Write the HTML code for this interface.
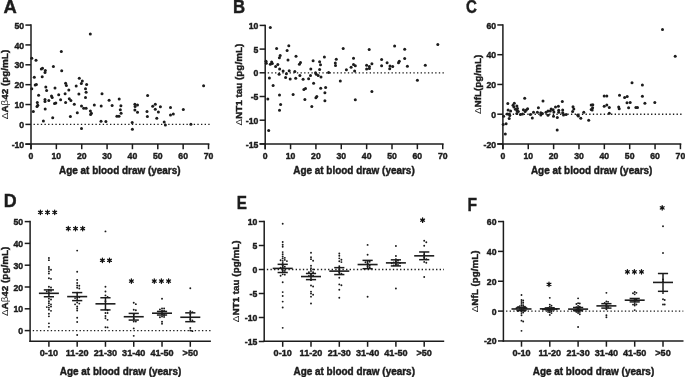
<!DOCTYPE html>
<html><head><meta charset="utf-8"><style>
html,body{margin:0;padding:0;background:#fff;}
svg{display:block;filter:grayscale(1);}
text{font-family:"Liberation Sans", sans-serif;stroke:#1c1c1c;stroke-width:0.42px;}
</style></head><body>
<svg width="685" height="377" viewBox="0 0 685 377">
<rect width="685" height="377" fill="#fff"/>
<g stroke="#1c1c1c" fill="#1c1c1c">
<line x1="31.00" y1="24.32" x2="31.00" y2="149.20" stroke-width="1.5" stroke-linecap="butt"/>
<line x1="25.40" y1="143.90" x2="209.42" y2="143.90" stroke-width="1.5" stroke-linecap="butt"/>
<line x1="25.40" y1="25.07" x2="31.00" y2="25.07" stroke-width="1.5" stroke-linecap="butt"/>
<text x="24.20" y="28.67" font-size="8.7" text-anchor="end" font-weight="bold" >50</text>
<line x1="25.40" y1="44.93" x2="31.00" y2="44.93" stroke-width="1.5" stroke-linecap="butt"/>
<text x="24.20" y="48.53" font-size="8.7" text-anchor="end" font-weight="bold" >40</text>
<line x1="25.40" y1="64.80" x2="31.00" y2="64.80" stroke-width="1.5" stroke-linecap="butt"/>
<text x="24.20" y="68.40" font-size="8.7" text-anchor="end" font-weight="bold" >30</text>
<line x1="25.40" y1="84.67" x2="31.00" y2="84.67" stroke-width="1.5" stroke-linecap="butt"/>
<text x="24.20" y="88.27" font-size="8.7" text-anchor="end" font-weight="bold" >20</text>
<line x1="25.40" y1="104.53" x2="31.00" y2="104.53" stroke-width="1.5" stroke-linecap="butt"/>
<text x="24.20" y="108.13" font-size="8.7" text-anchor="end" font-weight="bold" >10</text>
<line x1="25.40" y1="124.40" x2="31.00" y2="124.40" stroke-width="1.5" stroke-linecap="butt"/>
<text x="24.20" y="128.00" font-size="8.7" text-anchor="end" font-weight="bold" >0</text>
<line x1="25.40" y1="144.27" x2="31.00" y2="144.27" stroke-width="1.5" stroke-linecap="butt"/>
<text x="24.20" y="147.87" font-size="8.7" text-anchor="end" font-weight="bold" >-10</text>
<line x1="31.00" y1="143.90" x2="31.00" y2="149.20" stroke-width="1.5" stroke-linecap="butt"/>
<text x="31.00" y="159.20" font-size="8.7" text-anchor="middle" font-weight="bold" >0</text>
<line x1="56.36" y1="143.90" x2="56.36" y2="149.20" stroke-width="1.5" stroke-linecap="butt"/>
<text x="56.36" y="159.20" font-size="8.7" text-anchor="middle" font-weight="bold" >10</text>
<line x1="81.72" y1="143.90" x2="81.72" y2="149.20" stroke-width="1.5" stroke-linecap="butt"/>
<text x="81.72" y="159.20" font-size="8.7" text-anchor="middle" font-weight="bold" >20</text>
<line x1="107.08" y1="143.90" x2="107.08" y2="149.20" stroke-width="1.5" stroke-linecap="butt"/>
<text x="107.08" y="159.20" font-size="8.7" text-anchor="middle" font-weight="bold" >30</text>
<line x1="132.44" y1="143.90" x2="132.44" y2="149.20" stroke-width="1.5" stroke-linecap="butt"/>
<text x="132.44" y="159.20" font-size="8.7" text-anchor="middle" font-weight="bold" >40</text>
<line x1="157.80" y1="143.90" x2="157.80" y2="149.20" stroke-width="1.5" stroke-linecap="butt"/>
<text x="157.80" y="159.20" font-size="8.7" text-anchor="middle" font-weight="bold" >50</text>
<line x1="183.16" y1="143.90" x2="183.16" y2="149.20" stroke-width="1.5" stroke-linecap="butt"/>
<text x="183.16" y="159.20" font-size="8.7" text-anchor="middle" font-weight="bold" >60</text>
<line x1="208.52" y1="143.90" x2="208.52" y2="149.20" stroke-width="1.5" stroke-linecap="butt"/>
<text x="208.52" y="159.20" font-size="8.7" text-anchor="middle" font-weight="bold" >70</text>
<line x1="33.55" y1="124.40" x2="210.32" y2="124.40" stroke-width="1.35" stroke-dasharray="1.35 2.29" class="dt"/>
<text transform="translate(119.76,174.20) scale(1,1.05)" font-size="9.95" text-anchor="middle" font-weight="bold">Age at blood draw (years)</text>
<text transform="translate(7.50,84.48) rotate(-90)" font-size="9.9" text-anchor="middle" font-weight="bold"><tspan font-weight="normal" stroke-width="0">Δ</tspan>A<tspan font-weight="normal" stroke-width="0">β</tspan>42 (pg/mL)</text>
<text transform="translate(3.50,13.30) scale(1.0,1)" font-size="18.4" font-weight="bold" stroke-width="0.6">A</text>
<line x1="265.20" y1="24.65" x2="265.20" y2="149.20" stroke-width="1.5" stroke-linecap="butt"/>
<line x1="259.60" y1="143.90" x2="443.62" y2="143.90" stroke-width="1.5" stroke-linecap="butt"/>
<line x1="259.60" y1="25.40" x2="265.20" y2="25.40" stroke-width="1.5" stroke-linecap="butt"/>
<text x="258.40" y="29.00" font-size="8.7" text-anchor="end" font-weight="bold" >10</text>
<line x1="259.60" y1="49.10" x2="265.20" y2="49.10" stroke-width="1.5" stroke-linecap="butt"/>
<text x="258.40" y="52.70" font-size="8.7" text-anchor="end" font-weight="bold" >5</text>
<line x1="259.60" y1="72.80" x2="265.20" y2="72.80" stroke-width="1.5" stroke-linecap="butt"/>
<text x="258.40" y="76.40" font-size="8.7" text-anchor="end" font-weight="bold" >0</text>
<line x1="259.60" y1="96.50" x2="265.20" y2="96.50" stroke-width="1.5" stroke-linecap="butt"/>
<text x="258.40" y="100.10" font-size="8.7" text-anchor="end" font-weight="bold" >-5</text>
<line x1="259.60" y1="120.20" x2="265.20" y2="120.20" stroke-width="1.5" stroke-linecap="butt"/>
<text x="258.40" y="123.80" font-size="8.7" text-anchor="end" font-weight="bold" >-10</text>
<line x1="259.60" y1="143.90" x2="265.20" y2="143.90" stroke-width="1.5" stroke-linecap="butt"/>
<text x="258.40" y="147.50" font-size="8.7" text-anchor="end" font-weight="bold" >-15</text>
<line x1="265.20" y1="143.90" x2="265.20" y2="149.20" stroke-width="1.5" stroke-linecap="butt"/>
<text x="265.20" y="159.20" font-size="8.7" text-anchor="middle" font-weight="bold" >0</text>
<line x1="290.56" y1="143.90" x2="290.56" y2="149.20" stroke-width="1.5" stroke-linecap="butt"/>
<text x="290.56" y="159.20" font-size="8.7" text-anchor="middle" font-weight="bold" >10</text>
<line x1="315.92" y1="143.90" x2="315.92" y2="149.20" stroke-width="1.5" stroke-linecap="butt"/>
<text x="315.92" y="159.20" font-size="8.7" text-anchor="middle" font-weight="bold" >20</text>
<line x1="341.28" y1="143.90" x2="341.28" y2="149.20" stroke-width="1.5" stroke-linecap="butt"/>
<text x="341.28" y="159.20" font-size="8.7" text-anchor="middle" font-weight="bold" >30</text>
<line x1="366.64" y1="143.90" x2="366.64" y2="149.20" stroke-width="1.5" stroke-linecap="butt"/>
<text x="366.64" y="159.20" font-size="8.7" text-anchor="middle" font-weight="bold" >40</text>
<line x1="392.00" y1="143.90" x2="392.00" y2="149.20" stroke-width="1.5" stroke-linecap="butt"/>
<text x="392.00" y="159.20" font-size="8.7" text-anchor="middle" font-weight="bold" >50</text>
<line x1="417.36" y1="143.90" x2="417.36" y2="149.20" stroke-width="1.5" stroke-linecap="butt"/>
<text x="417.36" y="159.20" font-size="8.7" text-anchor="middle" font-weight="bold" >60</text>
<line x1="442.72" y1="143.90" x2="442.72" y2="149.20" stroke-width="1.5" stroke-linecap="butt"/>
<text x="442.72" y="159.20" font-size="8.7" text-anchor="middle" font-weight="bold" >70</text>
<line x1="267.75" y1="72.80" x2="444.52" y2="72.80" stroke-width="1.35" stroke-dasharray="1.35 2.29" class="dt"/>
<text transform="translate(353.96,174.20) scale(1,1.05)" font-size="9.95" text-anchor="middle" font-weight="bold">Age at blood draw (years)</text>
<text transform="translate(241.60,84.65) rotate(-90)" font-size="9.9" text-anchor="middle" font-weight="bold"><tspan font-weight="normal" stroke-width="0">Δ</tspan>NT1 tau (pg/mL)</text>
<text transform="translate(233.00,13.30) scale(0.91,1)" font-size="18.4" font-weight="bold" stroke-width="0.6">B</text>
<line x1="502.90" y1="24.20" x2="502.90" y2="149.20" stroke-width="1.5" stroke-linecap="butt"/>
<line x1="497.30" y1="143.90" x2="681.32" y2="143.90" stroke-width="1.5" stroke-linecap="butt"/>
<line x1="497.30" y1="24.95" x2="502.90" y2="24.95" stroke-width="1.5" stroke-linecap="butt"/>
<text x="496.10" y="28.55" font-size="8.7" text-anchor="end" font-weight="bold" >60</text>
<line x1="497.30" y1="54.70" x2="502.90" y2="54.70" stroke-width="1.5" stroke-linecap="butt"/>
<text x="496.10" y="58.30" font-size="8.7" text-anchor="end" font-weight="bold" >40</text>
<line x1="497.30" y1="84.45" x2="502.90" y2="84.45" stroke-width="1.5" stroke-linecap="butt"/>
<text x="496.10" y="88.05" font-size="8.7" text-anchor="end" font-weight="bold" >20</text>
<line x1="497.30" y1="114.20" x2="502.90" y2="114.20" stroke-width="1.5" stroke-linecap="butt"/>
<text x="496.10" y="117.80" font-size="8.7" text-anchor="end" font-weight="bold" >0</text>
<line x1="497.30" y1="143.95" x2="502.90" y2="143.95" stroke-width="1.5" stroke-linecap="butt"/>
<text x="496.10" y="147.55" font-size="8.7" text-anchor="end" font-weight="bold" >-20</text>
<line x1="502.90" y1="143.90" x2="502.90" y2="149.20" stroke-width="1.5" stroke-linecap="butt"/>
<text x="502.90" y="159.20" font-size="8.7" text-anchor="middle" font-weight="bold" >0</text>
<line x1="528.26" y1="143.90" x2="528.26" y2="149.20" stroke-width="1.5" stroke-linecap="butt"/>
<text x="528.26" y="159.20" font-size="8.7" text-anchor="middle" font-weight="bold" >10</text>
<line x1="553.62" y1="143.90" x2="553.62" y2="149.20" stroke-width="1.5" stroke-linecap="butt"/>
<text x="553.62" y="159.20" font-size="8.7" text-anchor="middle" font-weight="bold" >20</text>
<line x1="578.98" y1="143.90" x2="578.98" y2="149.20" stroke-width="1.5" stroke-linecap="butt"/>
<text x="578.98" y="159.20" font-size="8.7" text-anchor="middle" font-weight="bold" >30</text>
<line x1="604.34" y1="143.90" x2="604.34" y2="149.20" stroke-width="1.5" stroke-linecap="butt"/>
<text x="604.34" y="159.20" font-size="8.7" text-anchor="middle" font-weight="bold" >40</text>
<line x1="629.70" y1="143.90" x2="629.70" y2="149.20" stroke-width="1.5" stroke-linecap="butt"/>
<text x="629.70" y="159.20" font-size="8.7" text-anchor="middle" font-weight="bold" >50</text>
<line x1="655.06" y1="143.90" x2="655.06" y2="149.20" stroke-width="1.5" stroke-linecap="butt"/>
<text x="655.06" y="159.20" font-size="8.7" text-anchor="middle" font-weight="bold" >60</text>
<line x1="680.42" y1="143.90" x2="680.42" y2="149.20" stroke-width="1.5" stroke-linecap="butt"/>
<text x="680.42" y="159.20" font-size="8.7" text-anchor="middle" font-weight="bold" >70</text>
<line x1="505.45" y1="114.20" x2="682.22" y2="114.20" stroke-width="1.35" stroke-dasharray="1.35 2.29" class="dt"/>
<text transform="translate(591.66,174.20) scale(1,1.05)" font-size="9.95" text-anchor="middle" font-weight="bold">Age at blood draw (years)</text>
<text transform="translate(480.60,84.43) rotate(-90)" font-size="9.9" text-anchor="middle" font-weight="bold"><tspan font-weight="normal" stroke-width="0">Δ</tspan>NfL(pg/mL)</text>
<text transform="translate(465.90,13.30) scale(0.82,1)" font-size="18.4" font-weight="bold" stroke-width="0.6">C</text>
</g>
<g fill="#1c1c1c" stroke="none">
<circle cx="90.30" cy="34.00" r="1.5"/>
<circle cx="61.30" cy="51.50" r="1.5"/>
<circle cx="31.80" cy="58.20" r="1.5"/>
<circle cx="36.00" cy="60.20" r="1.5"/>
<circle cx="53.40" cy="66.40" r="1.5"/>
<circle cx="41.30" cy="69.00" r="1.5"/>
<circle cx="42.50" cy="68.20" r="1.5"/>
<circle cx="45.30" cy="70.40" r="1.5"/>
<circle cx="45.00" cy="72.40" r="1.5"/>
<circle cx="61.70" cy="70.80" r="1.5"/>
<circle cx="34.30" cy="77.30" r="1.5"/>
<circle cx="42.20" cy="76.70" r="1.5"/>
<circle cx="79.30" cy="78.20" r="1.5"/>
<circle cx="82.30" cy="81.00" r="1.5"/>
<circle cx="81.30" cy="83.50" r="1.5"/>
<circle cx="86.60" cy="84.40" r="1.5"/>
<circle cx="35.20" cy="85.10" r="1.5"/>
<circle cx="36.40" cy="84.40" r="1.5"/>
<circle cx="65.60" cy="83.30" r="1.5"/>
<circle cx="66.40" cy="85.40" r="1.5"/>
<circle cx="76.20" cy="86.00" r="1.5"/>
<circle cx="31.80" cy="88.80" r="1.5"/>
<circle cx="45.80" cy="87.10" r="1.5"/>
<circle cx="46.60" cy="90.50" r="1.5"/>
<circle cx="55.00" cy="88.10" r="1.5"/>
<circle cx="68.80" cy="89.90" r="1.5"/>
<circle cx="85.50" cy="88.80" r="1.5"/>
<circle cx="86.10" cy="92.30" r="1.5"/>
<circle cx="38.60" cy="95.30" r="1.5"/>
<circle cx="51.50" cy="96.00" r="1.5"/>
<circle cx="52.20" cy="97.60" r="1.5"/>
<circle cx="58.70" cy="94.80" r="1.5"/>
<circle cx="65.10" cy="93.70" r="1.5"/>
<circle cx="78.90" cy="94.10" r="1.5"/>
<circle cx="85.50" cy="97.60" r="1.5"/>
<circle cx="45.00" cy="99.40" r="1.5"/>
<circle cx="60.60" cy="99.80" r="1.5"/>
<circle cx="69.30" cy="98.80" r="1.5"/>
<circle cx="45.00" cy="101.40" r="1.5"/>
<circle cx="48.80" cy="100.50" r="1.5"/>
<circle cx="65.60" cy="102.40" r="1.5"/>
<circle cx="70.90" cy="100.50" r="1.5"/>
<circle cx="54.50" cy="103.50" r="1.5"/>
<circle cx="55.80" cy="103.00" r="1.5"/>
<circle cx="74.30" cy="104.30" r="1.5"/>
<circle cx="37.30" cy="102.40" r="1.5"/>
<circle cx="37.80" cy="105.30" r="1.5"/>
<circle cx="37.00" cy="106.40" r="1.5"/>
<circle cx="33.30" cy="111.40" r="1.5"/>
<circle cx="45.20" cy="109.10" r="1.5"/>
<circle cx="81.50" cy="106.10" r="1.5"/>
<circle cx="83.70" cy="108.30" r="1.5"/>
<circle cx="86.10" cy="108.30" r="1.5"/>
<circle cx="77.30" cy="112.70" r="1.5"/>
<circle cx="52.70" cy="117.80" r="1.5"/>
<circle cx="70.40" cy="116.50" r="1.5"/>
<circle cx="43.40" cy="121.00" r="1.5"/>
<circle cx="81.50" cy="128.40" r="1.5"/>
<circle cx="102.00" cy="93.70" r="1.5"/>
<circle cx="109.10" cy="100.30" r="1.5"/>
<circle cx="119.20" cy="99.00" r="1.5"/>
<circle cx="94.30" cy="105.10" r="1.5"/>
<circle cx="101.20" cy="105.90" r="1.5"/>
<circle cx="112.10" cy="105.40" r="1.5"/>
<circle cx="120.90" cy="105.80" r="1.5"/>
<circle cx="90.40" cy="111.10" r="1.5"/>
<circle cx="91.40" cy="113.20" r="1.5"/>
<circle cx="90.60" cy="114.60" r="1.5"/>
<circle cx="120.30" cy="109.80" r="1.5"/>
<circle cx="121.10" cy="113.30" r="1.5"/>
<circle cx="116.90" cy="116.20" r="1.5"/>
<circle cx="119.00" cy="116.20" r="1.5"/>
<circle cx="134.90" cy="104.30" r="1.5"/>
<circle cx="137.50" cy="105.10" r="1.5"/>
<circle cx="135.10" cy="106.40" r="1.5"/>
<circle cx="134.90" cy="110.10" r="1.5"/>
<circle cx="137.50" cy="112.20" r="1.5"/>
<circle cx="101.00" cy="121.30" r="1.5"/>
<circle cx="105.90" cy="121.50" r="1.5"/>
<circle cx="132.20" cy="122.40" r="1.5"/>
<circle cx="132.40" cy="129.20" r="1.5"/>
<circle cx="203.60" cy="85.80" r="1.5"/>
<circle cx="147.60" cy="95.40" r="1.5"/>
<circle cx="155.30" cy="104.30" r="1.5"/>
<circle cx="152.70" cy="106.20" r="1.5"/>
<circle cx="160.40" cy="106.80" r="1.5"/>
<circle cx="170.50" cy="107.60" r="1.5"/>
<circle cx="155.30" cy="109.20" r="1.5"/>
<circle cx="147.00" cy="111.50" r="1.5"/>
<circle cx="158.40" cy="111.90" r="1.5"/>
<circle cx="183.30" cy="109.60" r="1.5"/>
<circle cx="147.40" cy="116.40" r="1.5"/>
<circle cx="156.80" cy="118.20" r="1.5"/>
<circle cx="170.50" cy="115.10" r="1.5"/>
<circle cx="173.30" cy="114.10" r="1.5"/>
<circle cx="164.20" cy="122.00" r="1.5"/>
<circle cx="165.40" cy="124.90" r="1.5"/>
<circle cx="190.90" cy="124.30" r="1.5"/>
<circle cx="270.30" cy="27.60" r="1.5"/>
<circle cx="276.60" cy="48.40" r="1.5"/>
<circle cx="288.80" cy="45.70" r="1.5"/>
<circle cx="287.10" cy="50.40" r="1.5"/>
<circle cx="280.20" cy="55.60" r="1.5"/>
<circle cx="279.40" cy="57.70" r="1.5"/>
<circle cx="296.00" cy="56.20" r="1.5"/>
<circle cx="288.00" cy="60.00" r="1.5"/>
<circle cx="266.00" cy="61.30" r="1.5"/>
<circle cx="266.30" cy="63.30" r="1.5"/>
<circle cx="271.60" cy="62.00" r="1.5"/>
<circle cx="270.30" cy="64.30" r="1.5"/>
<circle cx="272.30" cy="63.60" r="1.5"/>
<circle cx="275.60" cy="66.40" r="1.5"/>
<circle cx="277.80" cy="64.50" r="1.5"/>
<circle cx="279.60" cy="68.90" r="1.5"/>
<circle cx="283.10" cy="70.90" r="1.5"/>
<circle cx="289.20" cy="70.80" r="1.5"/>
<circle cx="279.10" cy="74.20" r="1.5"/>
<circle cx="286.40" cy="73.80" r="1.5"/>
<circle cx="269.40" cy="77.90" r="1.5"/>
<circle cx="285.60" cy="77.60" r="1.5"/>
<circle cx="290.20" cy="79.00" r="1.5"/>
<circle cx="300.50" cy="62.60" r="1.5"/>
<circle cx="299.40" cy="64.20" r="1.5"/>
<circle cx="313.10" cy="60.70" r="1.5"/>
<circle cx="324.40" cy="57.00" r="1.5"/>
<circle cx="319.60" cy="61.80" r="1.5"/>
<circle cx="320.50" cy="64.70" r="1.5"/>
<circle cx="310.80" cy="69.10" r="1.5"/>
<circle cx="319.60" cy="69.50" r="1.5"/>
<circle cx="294.80" cy="71.50" r="1.5"/>
<circle cx="315.50" cy="72.70" r="1.5"/>
<circle cx="316.30" cy="74.30" r="1.5"/>
<circle cx="318.20" cy="75.50" r="1.5"/>
<circle cx="321.00" cy="76.90" r="1.5"/>
<circle cx="299.90" cy="75.50" r="1.5"/>
<circle cx="310.50" cy="75.50" r="1.5"/>
<circle cx="295.70" cy="78.30" r="1.5"/>
<circle cx="303.10" cy="79.20" r="1.5"/>
<circle cx="308.60" cy="78.80" r="1.5"/>
<circle cx="273.10" cy="85.40" r="1.5"/>
<circle cx="313.60" cy="83.30" r="1.5"/>
<circle cx="303.90" cy="89.60" r="1.5"/>
<circle cx="305.50" cy="88.60" r="1.5"/>
<circle cx="320.70" cy="88.30" r="1.5"/>
<circle cx="279.50" cy="95.10" r="1.5"/>
<circle cx="293.10" cy="94.60" r="1.5"/>
<circle cx="267.80" cy="98.90" r="1.5"/>
<circle cx="304.90" cy="99.60" r="1.5"/>
<circle cx="315.90" cy="97.80" r="1.5"/>
<circle cx="316.80" cy="96.50" r="1.5"/>
<circle cx="280.60" cy="104.50" r="1.5"/>
<circle cx="279.50" cy="110.30" r="1.5"/>
<circle cx="311.80" cy="106.40" r="1.5"/>
<circle cx="268.70" cy="130.40" r="1.5"/>
<circle cx="343.20" cy="48.50" r="1.5"/>
<circle cx="369.20" cy="49.60" r="1.5"/>
<circle cx="336.30" cy="59.20" r="1.5"/>
<circle cx="353.50" cy="58.30" r="1.5"/>
<circle cx="335.30" cy="63.10" r="1.5"/>
<circle cx="335.50" cy="65.50" r="1.5"/>
<circle cx="353.50" cy="64.50" r="1.5"/>
<circle cx="355.30" cy="65.70" r="1.5"/>
<circle cx="351.10" cy="67.30" r="1.5"/>
<circle cx="366.60" cy="65.20" r="1.5"/>
<circle cx="371.90" cy="63.80" r="1.5"/>
<circle cx="369.40" cy="66.60" r="1.5"/>
<circle cx="369.40" cy="68.40" r="1.5"/>
<circle cx="366.60" cy="69.10" r="1.5"/>
<circle cx="346.40" cy="69.70" r="1.5"/>
<circle cx="354.60" cy="71.00" r="1.5"/>
<circle cx="328.60" cy="72.50" r="1.5"/>
<circle cx="340.30" cy="80.90" r="1.5"/>
<circle cx="325.60" cy="87.50" r="1.5"/>
<circle cx="324.90" cy="92.80" r="1.5"/>
<circle cx="371.90" cy="91.50" r="1.5"/>
<circle cx="324.90" cy="100.70" r="1.5"/>
<circle cx="355.30" cy="99.70" r="1.5"/>
<circle cx="394.60" cy="45.90" r="1.5"/>
<circle cx="437.80" cy="44.40" r="1.5"/>
<circle cx="404.70" cy="49.30" r="1.5"/>
<circle cx="381.60" cy="59.50" r="1.5"/>
<circle cx="404.70" cy="58.50" r="1.5"/>
<circle cx="387.10" cy="62.70" r="1.5"/>
<circle cx="399.30" cy="61.20" r="1.5"/>
<circle cx="398.50" cy="62.70" r="1.5"/>
<circle cx="381.60" cy="65.80" r="1.5"/>
<circle cx="390.00" cy="65.90" r="1.5"/>
<circle cx="392.70" cy="66.40" r="1.5"/>
<circle cx="389.70" cy="68.70" r="1.5"/>
<circle cx="407.40" cy="66.20" r="1.5"/>
<circle cx="425.30" cy="65.30" r="1.5"/>
<circle cx="417.40" cy="80.20" r="1.5"/>
<circle cx="662.50" cy="29.60" r="1.5"/>
<circle cx="675.20" cy="56.30" r="1.5"/>
<circle cx="632.00" cy="82.70" r="1.5"/>
<circle cx="642.40" cy="84.90" r="1.5"/>
<circle cx="619.50" cy="95.20" r="1.5"/>
<circle cx="624.60" cy="97.50" r="1.5"/>
<circle cx="627.20" cy="96.40" r="1.5"/>
<circle cx="642.40" cy="96.20" r="1.5"/>
<circle cx="627.00" cy="102.80" r="1.5"/>
<circle cx="630.20" cy="102.60" r="1.5"/>
<circle cx="644.90" cy="103.20" r="1.5"/>
<circle cx="654.80" cy="102.40" r="1.5"/>
<circle cx="618.70" cy="107.10" r="1.5"/>
<circle cx="619.20" cy="108.70" r="1.5"/>
<circle cx="628.60" cy="107.70" r="1.5"/>
<circle cx="635.90" cy="107.60" r="1.5"/>
<circle cx="637.50" cy="107.60" r="1.5"/>
<circle cx="604.20" cy="96.00" r="1.5"/>
<circle cx="606.80" cy="96.00" r="1.5"/>
<circle cx="591.20" cy="105.00" r="1.5"/>
<circle cx="592.80" cy="104.70" r="1.5"/>
<circle cx="592.60" cy="107.80" r="1.5"/>
<circle cx="591.20" cy="109.50" r="1.5"/>
<circle cx="592.20" cy="110.00" r="1.5"/>
<circle cx="604.20" cy="106.20" r="1.5"/>
<circle cx="606.80" cy="105.00" r="1.5"/>
<circle cx="609.30" cy="107.60" r="1.5"/>
<circle cx="609.30" cy="113.20" r="1.5"/>
<circle cx="583.80" cy="112.30" r="1.5"/>
<circle cx="577.60" cy="115.00" r="1.5"/>
<circle cx="578.40" cy="116.10" r="1.5"/>
<circle cx="580.80" cy="118.30" r="1.5"/>
<circle cx="588.70" cy="120.30" r="1.5"/>
<circle cx="543.00" cy="101.00" r="1.5"/>
<circle cx="562.30" cy="101.50" r="1.5"/>
<circle cx="558.40" cy="106.30" r="1.5"/>
<circle cx="555.50" cy="107.10" r="1.5"/>
<circle cx="551.10" cy="108.90" r="1.5"/>
<circle cx="553.10" cy="109.70" r="1.5"/>
<circle cx="548.00" cy="111.10" r="1.5"/>
<circle cx="550.30" cy="111.10" r="1.5"/>
<circle cx="553.90" cy="111.90" r="1.5"/>
<circle cx="546.00" cy="112.30" r="1.5"/>
<circle cx="540.80" cy="112.70" r="1.5"/>
<circle cx="542.40" cy="113.50" r="1.5"/>
<circle cx="558.70" cy="110.30" r="1.5"/>
<circle cx="558.70" cy="112.30" r="1.5"/>
<circle cx="562.70" cy="109.90" r="1.5"/>
<circle cx="562.70" cy="112.70" r="1.5"/>
<circle cx="563.50" cy="115.00" r="1.5"/>
<circle cx="566.10" cy="114.50" r="1.5"/>
<circle cx="548.00" cy="115.30" r="1.5"/>
<circle cx="553.50" cy="116.20" r="1.5"/>
<circle cx="557.30" cy="117.40" r="1.5"/>
<circle cx="573.00" cy="106.70" r="1.5"/>
<circle cx="573.80" cy="109.10" r="1.5"/>
<circle cx="572.60" cy="111.50" r="1.5"/>
<circle cx="557.20" cy="130.00" r="1.5"/>
<circle cx="524.70" cy="98.20" r="1.5"/>
<circle cx="507.80" cy="103.60" r="1.5"/>
<circle cx="514.30" cy="103.20" r="1.5"/>
<circle cx="513.00" cy="105.20" r="1.5"/>
<circle cx="513.90" cy="107.00" r="1.5"/>
<circle cx="516.90" cy="105.90" r="1.5"/>
<circle cx="517.50" cy="108.40" r="1.5"/>
<circle cx="517.00" cy="110.70" r="1.5"/>
<circle cx="515.40" cy="109.20" r="1.5"/>
<circle cx="508.10" cy="110.10" r="1.5"/>
<circle cx="510.60" cy="111.00" r="1.5"/>
<circle cx="507.20" cy="113.90" r="1.5"/>
<circle cx="509.30" cy="114.10" r="1.5"/>
<circle cx="509.80" cy="115.60" r="1.5"/>
<circle cx="503.60" cy="116.20" r="1.5"/>
<circle cx="509.20" cy="118.40" r="1.5"/>
<circle cx="506.10" cy="123.70" r="1.5"/>
<circle cx="503.20" cy="124.60" r="1.5"/>
<circle cx="505.30" cy="133.90" r="1.5"/>
<circle cx="532.30" cy="118.00" r="1.5"/>
<circle cx="530.40" cy="114.40" r="1.5"/>
<circle cx="533.50" cy="112.20" r="1.5"/>
<circle cx="537.40" cy="112.20" r="1.5"/>
<circle cx="516.80" cy="113.50" r="1.5"/>
<circle cx="520.40" cy="114.40" r="1.5"/>
<circle cx="522.50" cy="113.90" r="1.5"/>
<circle cx="525.10" cy="111.40" r="1.5"/>
<circle cx="526.30" cy="110.10" r="1.5"/>
<circle cx="518.30" cy="111.40" r="1.5"/>
<circle cx="523.40" cy="109.70" r="1.5"/>
<circle cx="527.60" cy="108.80" r="1.5"/>
<circle cx="538.40" cy="107.70" r="1.5"/>
<circle cx="540.80" cy="115.00" r="1.5"/>
</g>
<g stroke="#1c1c1c" fill="#1c1c1c">
<line x1="30.10" y1="220.85" x2="30.10" y2="341.95" stroke-width="1.5" stroke-linecap="butt"/>
<line x1="29.35" y1="341.20" x2="210.90" y2="341.20" stroke-width="1.5" stroke-linecap="butt"/>
<line x1="24.70" y1="221.60" x2="30.10" y2="221.60" stroke-width="1.5" stroke-linecap="butt"/>
<text x="23.20" y="225.10" font-size="8.7" text-anchor="end" font-weight="bold" >50</text>
<line x1="24.70" y1="243.40" x2="30.10" y2="243.40" stroke-width="1.5" stroke-linecap="butt"/>
<text x="23.20" y="246.90" font-size="8.7" text-anchor="end" font-weight="bold" >40</text>
<line x1="24.70" y1="265.20" x2="30.10" y2="265.20" stroke-width="1.5" stroke-linecap="butt"/>
<text x="23.20" y="268.70" font-size="8.7" text-anchor="end" font-weight="bold" >30</text>
<line x1="24.70" y1="287.00" x2="30.10" y2="287.00" stroke-width="1.5" stroke-linecap="butt"/>
<text x="23.20" y="290.50" font-size="8.7" text-anchor="end" font-weight="bold" >20</text>
<line x1="24.70" y1="308.80" x2="30.10" y2="308.80" stroke-width="1.5" stroke-linecap="butt"/>
<text x="23.20" y="312.30" font-size="8.7" text-anchor="end" font-weight="bold" >10</text>
<line x1="24.70" y1="330.60" x2="30.10" y2="330.60" stroke-width="1.5" stroke-linecap="butt"/>
<text x="23.20" y="334.10" font-size="8.7" text-anchor="end" font-weight="bold" >0</text>
<line x1="48.90" y1="341.20" x2="48.90" y2="346.80" stroke-width="1.5" stroke-linecap="butt"/>
<text x="48.90" y="356.20" font-size="9.1" text-anchor="middle" font-weight="bold" >0-10</text>
<line x1="77.18" y1="341.20" x2="77.18" y2="346.80" stroke-width="1.5" stroke-linecap="butt"/>
<text x="77.18" y="356.20" font-size="9.1" text-anchor="middle" font-weight="bold" >11-20</text>
<line x1="105.46" y1="341.20" x2="105.46" y2="346.80" stroke-width="1.5" stroke-linecap="butt"/>
<text x="105.46" y="356.20" font-size="9.1" text-anchor="middle" font-weight="bold" >21-30</text>
<line x1="133.74" y1="341.20" x2="133.74" y2="346.80" stroke-width="1.5" stroke-linecap="butt"/>
<text x="133.74" y="356.20" font-size="9.1" text-anchor="middle" font-weight="bold" >31-40</text>
<line x1="162.02" y1="341.20" x2="162.02" y2="346.80" stroke-width="1.5" stroke-linecap="butt"/>
<text x="162.02" y="356.20" font-size="9.1" text-anchor="middle" font-weight="bold" >41-50</text>
<line x1="190.30" y1="341.20" x2="190.30" y2="346.80" stroke-width="1.5" stroke-linecap="butt"/>
<text x="190.30" y="356.20" font-size="9.1" text-anchor="middle" font-weight="bold" >&gt;50</text>
<line x1="32.75" y1="330.60" x2="210.70" y2="330.60" stroke-width="1.35" stroke-dasharray="1.35 2.25" class="dt"/>
<text transform="translate(120.50,374.70) scale(1,1.05)" font-size="9.95" text-anchor="middle" font-weight="bold">Age at blood draw (years)</text>
<text transform="translate(7.50,281.40) rotate(-90)" font-size="9.9" text-anchor="middle" font-weight="bold"><tspan font-weight="normal" stroke-width="0">Δ</tspan>A<tspan font-weight="normal" stroke-width="0">β</tspan>42 (pg/mL)</text>
<text transform="translate(3.80,207.00) scale(0.97,1)" font-size="18.4" font-weight="bold" stroke-width="0.6">D</text>
<line x1="264.20" y1="220.75" x2="264.20" y2="341.95" stroke-width="1.5" stroke-linecap="butt"/>
<line x1="263.45" y1="341.20" x2="444.20" y2="341.20" stroke-width="1.5" stroke-linecap="butt"/>
<line x1="258.80" y1="221.50" x2="264.20" y2="221.50" stroke-width="1.5" stroke-linecap="butt"/>
<text x="257.30" y="225.00" font-size="8.7" text-anchor="end" font-weight="bold" >10</text>
<line x1="258.80" y1="245.50" x2="264.20" y2="245.50" stroke-width="1.5" stroke-linecap="butt"/>
<text x="257.30" y="249.00" font-size="8.7" text-anchor="end" font-weight="bold" >5</text>
<line x1="258.80" y1="269.50" x2="264.20" y2="269.50" stroke-width="1.5" stroke-linecap="butt"/>
<text x="257.30" y="273.00" font-size="8.7" text-anchor="end" font-weight="bold" >0</text>
<line x1="258.80" y1="293.50" x2="264.20" y2="293.50" stroke-width="1.5" stroke-linecap="butt"/>
<text x="257.30" y="297.00" font-size="8.7" text-anchor="end" font-weight="bold" >-5</text>
<line x1="258.80" y1="317.50" x2="264.20" y2="317.50" stroke-width="1.5" stroke-linecap="butt"/>
<text x="257.30" y="321.00" font-size="8.7" text-anchor="end" font-weight="bold" >-10</text>
<line x1="258.80" y1="341.50" x2="264.20" y2="341.50" stroke-width="1.5" stroke-linecap="butt"/>
<text x="257.30" y="345.00" font-size="8.7" text-anchor="end" font-weight="bold" >-15</text>
<line x1="282.70" y1="341.20" x2="282.70" y2="346.80" stroke-width="1.5" stroke-linecap="butt"/>
<text x="282.70" y="356.20" font-size="9.1" text-anchor="middle" font-weight="bold" >0-10</text>
<line x1="311.00" y1="341.20" x2="311.00" y2="346.80" stroke-width="1.5" stroke-linecap="butt"/>
<text x="311.00" y="356.20" font-size="9.1" text-anchor="middle" font-weight="bold" >11-20</text>
<line x1="339.30" y1="341.20" x2="339.30" y2="346.80" stroke-width="1.5" stroke-linecap="butt"/>
<text x="339.30" y="356.20" font-size="9.1" text-anchor="middle" font-weight="bold" >21-30</text>
<line x1="367.60" y1="341.20" x2="367.60" y2="346.80" stroke-width="1.5" stroke-linecap="butt"/>
<text x="367.60" y="356.20" font-size="9.1" text-anchor="middle" font-weight="bold" >31-40</text>
<line x1="395.90" y1="341.20" x2="395.90" y2="346.80" stroke-width="1.5" stroke-linecap="butt"/>
<text x="395.90" y="356.20" font-size="9.1" text-anchor="middle" font-weight="bold" >41-50</text>
<line x1="424.20" y1="341.20" x2="424.20" y2="346.80" stroke-width="1.5" stroke-linecap="butt"/>
<text x="424.20" y="356.20" font-size="9.1" text-anchor="middle" font-weight="bold" >&gt;50</text>
<line x1="266.85" y1="269.50" x2="444.00" y2="269.50" stroke-width="1.35" stroke-dasharray="1.35 2.25" class="dt"/>
<text transform="translate(354.20,374.70) scale(1,1.05)" font-size="9.95" text-anchor="middle" font-weight="bold">Age at blood draw (years)</text>
<text transform="translate(239.00,281.35) rotate(-90)" font-size="9.9" text-anchor="middle" font-weight="bold"><tspan font-weight="normal" stroke-width="0">Δ</tspan>NT1 tau (pg/mL)</text>
<text transform="translate(236.70,208.60) scale(0.83,1)" font-size="18.4" font-weight="bold" stroke-width="0.6">E</text>
<line x1="503.40" y1="220.80" x2="503.40" y2="341.85" stroke-width="1.5" stroke-linecap="butt"/>
<line x1="502.65" y1="341.10" x2="683.50" y2="341.10" stroke-width="1.5" stroke-linecap="butt"/>
<line x1="498.00" y1="221.55" x2="503.40" y2="221.55" stroke-width="1.5" stroke-linecap="butt"/>
<text x="496.50" y="225.05" font-size="8.7" text-anchor="end" font-weight="bold" >60</text>
<line x1="498.00" y1="251.40" x2="503.40" y2="251.40" stroke-width="1.5" stroke-linecap="butt"/>
<text x="496.50" y="254.90" font-size="8.7" text-anchor="end" font-weight="bold" >40</text>
<line x1="498.00" y1="281.25" x2="503.40" y2="281.25" stroke-width="1.5" stroke-linecap="butt"/>
<text x="496.50" y="284.75" font-size="8.7" text-anchor="end" font-weight="bold" >20</text>
<line x1="498.00" y1="311.10" x2="503.40" y2="311.10" stroke-width="1.5" stroke-linecap="butt"/>
<text x="496.50" y="314.60" font-size="8.7" text-anchor="end" font-weight="bold" >0</text>
<line x1="498.00" y1="340.95" x2="503.40" y2="340.95" stroke-width="1.5" stroke-linecap="butt"/>
<text x="496.50" y="344.45" font-size="8.7" text-anchor="end" font-weight="bold" >-20</text>
<line x1="521.50" y1="341.10" x2="521.50" y2="346.70" stroke-width="1.5" stroke-linecap="butt"/>
<text x="521.50" y="356.10" font-size="9.1" text-anchor="middle" font-weight="bold" >0-10</text>
<line x1="549.80" y1="341.10" x2="549.80" y2="346.70" stroke-width="1.5" stroke-linecap="butt"/>
<text x="549.80" y="356.10" font-size="9.1" text-anchor="middle" font-weight="bold" >11-20</text>
<line x1="578.10" y1="341.10" x2="578.10" y2="346.70" stroke-width="1.5" stroke-linecap="butt"/>
<text x="578.10" y="356.10" font-size="9.1" text-anchor="middle" font-weight="bold" >21-30</text>
<line x1="606.40" y1="341.10" x2="606.40" y2="346.70" stroke-width="1.5" stroke-linecap="butt"/>
<text x="606.40" y="356.10" font-size="9.1" text-anchor="middle" font-weight="bold" >31-40</text>
<line x1="634.70" y1="341.10" x2="634.70" y2="346.70" stroke-width="1.5" stroke-linecap="butt"/>
<text x="634.70" y="356.10" font-size="9.1" text-anchor="middle" font-weight="bold" >41-50</text>
<line x1="663.00" y1="341.10" x2="663.00" y2="346.70" stroke-width="1.5" stroke-linecap="butt"/>
<text x="663.00" y="356.10" font-size="9.1" text-anchor="middle" font-weight="bold" >&gt;50</text>
<line x1="506.05" y1="311.10" x2="683.30" y2="311.10" stroke-width="1.35" stroke-dasharray="1.35 2.25" class="dt"/>
<text transform="translate(593.45,374.60) scale(1,1.05)" font-size="9.95" text-anchor="middle" font-weight="bold">Age at blood draw (years)</text>
<text transform="translate(477.60,281.33) rotate(-90)" font-size="9.9" text-anchor="middle" font-weight="bold"><tspan font-weight="normal" stroke-width="0">Δ</tspan>NfL (pg/mL)</text>
<text transform="translate(467.40,210.70) scale(0.85,1)" font-size="18.4" font-weight="bold" stroke-width="0.6">F</text>
</g>
<g stroke="none" fill="#1a1a1a">
<circle cx="48.90" cy="257.96" r="0.95"/>
<circle cx="48.90" cy="260.15" r="0.95"/>
<circle cx="48.90" cy="266.96" r="0.95"/>
<circle cx="48.90" cy="268.93" r="0.95"/>
<circle cx="51.00" cy="269.81" r="0.95"/>
<circle cx="48.90" cy="271.35" r="0.95"/>
<circle cx="48.90" cy="273.54" r="0.95"/>
<circle cx="48.90" cy="278.26" r="0.95"/>
<circle cx="51.00" cy="278.92" r="0.95"/>
<circle cx="48.90" cy="286.71" r="0.95"/>
<circle cx="51.00" cy="287.48" r="0.95"/>
<circle cx="48.90" cy="289.67" r="0.95"/>
<circle cx="51.00" cy="290.77" r="0.95"/>
<circle cx="46.80" cy="291.54" r="0.95"/>
<circle cx="48.90" cy="293.40" r="0.95"/>
<circle cx="48.90" cy="298.67" r="0.95"/>
<circle cx="51.00" cy="299.44" r="0.95"/>
<circle cx="48.90" cy="301.19" r="0.95"/>
<circle cx="48.90" cy="303.17" r="0.95"/>
<circle cx="51.00" cy="304.37" r="0.95"/>
<circle cx="48.90" cy="305.36" r="0.95"/>
<circle cx="51.00" cy="306.46" r="0.95"/>
<circle cx="46.80" cy="307.12" r="0.95"/>
<circle cx="48.90" cy="307.67" r="0.95"/>
<circle cx="48.90" cy="309.64" r="0.95"/>
<circle cx="51.00" cy="310.85" r="0.95"/>
<circle cx="48.90" cy="313.81" r="0.95"/>
<circle cx="48.90" cy="316.34" r="0.95"/>
<circle cx="48.90" cy="323.36" r="0.95"/>
<circle cx="48.90" cy="326.87" r="0.95"/>
<circle cx="77.18" cy="250.61" r="0.95"/>
<circle cx="77.18" cy="271.78" r="0.95"/>
<circle cx="77.18" cy="279.90" r="0.95"/>
<circle cx="77.18" cy="282.98" r="0.95"/>
<circle cx="77.18" cy="285.50" r="0.95"/>
<circle cx="79.28" cy="285.72" r="0.95"/>
<circle cx="77.18" cy="287.81" r="0.95"/>
<circle cx="79.28" cy="288.46" r="0.95"/>
<circle cx="77.18" cy="292.74" r="0.95"/>
<circle cx="77.18" cy="296.91" r="0.95"/>
<circle cx="79.28" cy="297.35" r="0.95"/>
<circle cx="75.08" cy="298.12" r="0.95"/>
<circle cx="77.18" cy="302.51" r="0.95"/>
<circle cx="79.28" cy="303.61" r="0.95"/>
<circle cx="75.08" cy="304.37" r="0.95"/>
<circle cx="77.18" cy="306.46" r="0.95"/>
<circle cx="77.18" cy="308.54" r="0.95"/>
<circle cx="77.18" cy="310.52" r="0.95"/>
<circle cx="77.18" cy="317.76" r="0.95"/>
<circle cx="77.18" cy="321.93" r="0.95"/>
<circle cx="77.18" cy="334.99" r="0.95"/>
<circle cx="105.46" cy="231.40" r="0.95"/>
<circle cx="105.46" cy="286.71" r="0.95"/>
<circle cx="105.46" cy="291.54" r="0.95"/>
<circle cx="105.46" cy="295.38" r="0.95"/>
<circle cx="107.56" cy="296.91" r="0.95"/>
<circle cx="105.46" cy="301.19" r="0.95"/>
<circle cx="105.46" cy="309.42" r="0.95"/>
<circle cx="107.56" cy="310.30" r="0.95"/>
<circle cx="105.46" cy="312.93" r="0.95"/>
<circle cx="107.56" cy="312.93" r="0.95"/>
<circle cx="105.46" cy="316.01" r="0.95"/>
<circle cx="105.46" cy="318.31" r="0.95"/>
<circle cx="107.56" cy="319.85" r="0.95"/>
<circle cx="105.46" cy="327.20" r="0.95"/>
<circle cx="107.56" cy="327.42" r="0.95"/>
<circle cx="133.74" cy="302.73" r="0.95"/>
<circle cx="135.84" cy="304.16" r="0.95"/>
<circle cx="133.74" cy="309.75" r="0.95"/>
<circle cx="135.84" cy="310.19" r="0.95"/>
<circle cx="133.74" cy="314.58" r="0.95"/>
<circle cx="133.74" cy="318.42" r="0.95"/>
<circle cx="133.74" cy="321.60" r="0.95"/>
<circle cx="135.84" cy="321.60" r="0.95"/>
<circle cx="133.74" cy="328.41" r="0.95"/>
<circle cx="133.74" cy="335.87" r="0.95"/>
<circle cx="162.02" cy="298.78" r="0.95"/>
<circle cx="162.02" cy="308.54" r="0.95"/>
<circle cx="164.12" cy="308.54" r="0.95"/>
<circle cx="159.92" cy="309.42" r="0.95"/>
<circle cx="162.02" cy="310.63" r="0.95"/>
<circle cx="164.12" cy="310.85" r="0.95"/>
<circle cx="162.02" cy="313.92" r="0.95"/>
<circle cx="164.12" cy="314.91" r="0.95"/>
<circle cx="162.02" cy="316.44" r="0.95"/>
<circle cx="164.12" cy="316.88" r="0.95"/>
<circle cx="159.92" cy="317.21" r="0.95"/>
<circle cx="162.02" cy="321.82" r="0.95"/>
<circle cx="162.02" cy="323.80" r="0.95"/>
<circle cx="190.30" cy="288.24" r="0.95"/>
<circle cx="190.30" cy="311.29" r="0.95"/>
<circle cx="192.40" cy="312.17" r="0.95"/>
<circle cx="190.30" cy="314.36" r="0.95"/>
<circle cx="190.30" cy="319.30" r="0.95"/>
<circle cx="192.40" cy="320.40" r="0.95"/>
<circle cx="190.30" cy="327.97" r="0.95"/>
<circle cx="190.30" cy="330.49" r="0.95"/>
<circle cx="192.40" cy="331.15" r="0.95"/>
</g>
<g stroke="#1c1c1c" fill="none">
<line x1="38.90" y1="293.32" x2="58.90" y2="293.32" stroke-width="1.6" stroke-linecap="butt"/>
<line x1="43.80" y1="289.90" x2="54.00" y2="289.90" stroke-width="1.5" stroke-linecap="butt"/>
<line x1="43.80" y1="296.75" x2="54.00" y2="296.75" stroke-width="1.5" stroke-linecap="butt"/>
<line x1="48.90" y1="289.90" x2="48.90" y2="296.75" stroke-width="1.5" stroke-linecap="butt"/>
<line x1="67.18" y1="296.60" x2="87.18" y2="296.60" stroke-width="1.6" stroke-linecap="butt"/>
<line x1="72.08" y1="292.59" x2="82.28" y2="292.59" stroke-width="1.5" stroke-linecap="butt"/>
<line x1="72.08" y1="300.61" x2="82.28" y2="300.61" stroke-width="1.5" stroke-linecap="butt"/>
<line x1="77.18" y1="292.59" x2="77.18" y2="300.61" stroke-width="1.5" stroke-linecap="butt"/>
<line x1="95.46" y1="303.83" x2="115.46" y2="303.83" stroke-width="1.6" stroke-linecap="butt"/>
<line x1="100.36" y1="297.75" x2="110.56" y2="297.75" stroke-width="1.5" stroke-linecap="butt"/>
<line x1="100.36" y1="309.92" x2="110.56" y2="309.92" stroke-width="1.5" stroke-linecap="butt"/>
<line x1="105.46" y1="297.75" x2="105.46" y2="309.92" stroke-width="1.5" stroke-linecap="butt"/>
<line x1="123.74" y1="316.73" x2="143.74" y2="316.73" stroke-width="1.6" stroke-linecap="butt"/>
<line x1="128.64" y1="313.39" x2="138.84" y2="313.39" stroke-width="1.5" stroke-linecap="butt"/>
<line x1="128.64" y1="320.07" x2="138.84" y2="320.07" stroke-width="1.5" stroke-linecap="butt"/>
<line x1="133.74" y1="313.39" x2="133.74" y2="320.07" stroke-width="1.5" stroke-linecap="butt"/>
<line x1="152.02" y1="313.21" x2="172.02" y2="313.21" stroke-width="1.6" stroke-linecap="butt"/>
<line x1="156.92" y1="311.41" x2="167.12" y2="311.41" stroke-width="1.5" stroke-linecap="butt"/>
<line x1="156.92" y1="315.02" x2="167.12" y2="315.02" stroke-width="1.5" stroke-linecap="butt"/>
<line x1="162.02" y1="311.41" x2="162.02" y2="315.02" stroke-width="1.5" stroke-linecap="butt"/>
<line x1="180.30" y1="317.26" x2="200.30" y2="317.26" stroke-width="1.6" stroke-linecap="butt"/>
<line x1="185.20" y1="312.84" x2="195.40" y2="312.84" stroke-width="1.5" stroke-linecap="butt"/>
<line x1="185.20" y1="321.68" x2="195.40" y2="321.68" stroke-width="1.5" stroke-linecap="butt"/>
<line x1="190.30" y1="312.84" x2="190.30" y2="321.68" stroke-width="1.5" stroke-linecap="butt"/>
</g>
<g stroke="none" fill="#1a1a1a">
<circle cx="282.70" cy="223.73" r="0.95"/>
<circle cx="282.70" cy="242.06" r="0.95"/>
<circle cx="282.70" cy="244.79" r="0.95"/>
<circle cx="282.70" cy="246.82" r="0.95"/>
<circle cx="282.70" cy="252.08" r="0.95"/>
<circle cx="282.70" cy="254.21" r="0.95"/>
<circle cx="282.70" cy="256.54" r="0.95"/>
<circle cx="284.80" cy="257.85" r="0.95"/>
<circle cx="282.70" cy="258.56" r="0.95"/>
<circle cx="284.80" cy="259.88" r="0.95"/>
<circle cx="280.60" cy="260.18" r="0.95"/>
<circle cx="282.70" cy="260.89" r="0.95"/>
<circle cx="286.90" cy="261.09" r="0.95"/>
<circle cx="282.70" cy="263.02" r="0.95"/>
<circle cx="282.70" cy="265.55" r="0.95"/>
<circle cx="284.80" cy="266.62" r="0.95"/>
<circle cx="282.70" cy="267.47" r="0.95"/>
<circle cx="280.60" cy="267.58" r="0.95"/>
<circle cx="284.80" cy="268.54" r="0.95"/>
<circle cx="282.70" cy="270.51" r="0.95"/>
<circle cx="284.80" cy="270.92" r="0.95"/>
<circle cx="282.70" cy="274.36" r="0.95"/>
<circle cx="284.80" cy="274.66" r="0.95"/>
<circle cx="280.60" cy="275.78" r="0.95"/>
<circle cx="282.70" cy="282.26" r="0.95"/>
<circle cx="282.70" cy="292.08" r="0.95"/>
<circle cx="282.70" cy="295.93" r="0.95"/>
<circle cx="282.70" cy="301.60" r="0.95"/>
<circle cx="282.70" cy="307.47" r="0.95"/>
<circle cx="282.70" cy="327.83" r="0.95"/>
<circle cx="311.00" cy="252.69" r="0.95"/>
<circle cx="311.00" cy="257.25" r="0.95"/>
<circle cx="311.00" cy="259.17" r="0.95"/>
<circle cx="313.10" cy="260.79" r="0.95"/>
<circle cx="311.00" cy="265.75" r="0.95"/>
<circle cx="311.00" cy="268.18" r="0.95"/>
<circle cx="313.10" cy="269.40" r="0.95"/>
<circle cx="311.00" cy="271.02" r="0.95"/>
<circle cx="313.10" cy="272.23" r="0.95"/>
<circle cx="308.90" cy="272.23" r="0.95"/>
<circle cx="311.00" cy="275.07" r="0.95"/>
<circle cx="313.10" cy="275.58" r="0.95"/>
<circle cx="308.90" cy="275.98" r="0.95"/>
<circle cx="311.00" cy="280.13" r="0.95"/>
<circle cx="311.00" cy="285.50" r="0.95"/>
<circle cx="313.10" cy="286.51" r="0.95"/>
<circle cx="311.00" cy="291.58" r="0.95"/>
<circle cx="311.00" cy="293.50" r="0.95"/>
<circle cx="313.10" cy="294.82" r="0.95"/>
<circle cx="311.00" cy="296.64" r="0.95"/>
<circle cx="311.00" cy="303.53" r="0.95"/>
<circle cx="339.30" cy="253.50" r="0.95"/>
<circle cx="339.30" cy="255.73" r="0.95"/>
<circle cx="339.30" cy="258.36" r="0.95"/>
<circle cx="341.40" cy="259.68" r="0.95"/>
<circle cx="339.30" cy="261.30" r="0.95"/>
<circle cx="341.40" cy="262.11" r="0.95"/>
<circle cx="339.30" cy="266.16" r="0.95"/>
<circle cx="339.30" cy="269.20" r="0.95"/>
<circle cx="339.30" cy="272.23" r="0.95"/>
<circle cx="341.40" cy="273.65" r="0.95"/>
<circle cx="339.30" cy="277.70" r="0.95"/>
<circle cx="339.30" cy="284.39" r="0.95"/>
<circle cx="341.40" cy="285.20" r="0.95"/>
<circle cx="339.30" cy="289.75" r="0.95"/>
<circle cx="339.30" cy="297.75" r="0.95"/>
<circle cx="367.60" cy="244.89" r="0.95"/>
<circle cx="367.60" cy="254.82" r="0.95"/>
<circle cx="367.60" cy="261.09" r="0.95"/>
<circle cx="369.70" cy="261.80" r="0.95"/>
<circle cx="365.50" cy="262.31" r="0.95"/>
<circle cx="367.60" cy="263.93" r="0.95"/>
<circle cx="369.70" cy="265.75" r="0.95"/>
<circle cx="367.60" cy="266.36" r="0.95"/>
<circle cx="369.70" cy="267.68" r="0.95"/>
<circle cx="367.60" cy="296.74" r="0.95"/>
<circle cx="395.90" cy="246.01" r="0.95"/>
<circle cx="395.90" cy="256.03" r="0.95"/>
<circle cx="395.90" cy="259.27" r="0.95"/>
<circle cx="398.00" cy="260.39" r="0.95"/>
<circle cx="395.90" cy="261.34" r="0.95"/>
<circle cx="398.00" cy="262.41" r="0.95"/>
<circle cx="393.80" cy="262.51" r="0.95"/>
<circle cx="400.10" cy="263.02" r="0.95"/>
<circle cx="391.70" cy="263.22" r="0.95"/>
<circle cx="395.90" cy="264.22" r="0.95"/>
<circle cx="398.00" cy="265.04" r="0.95"/>
<circle cx="393.80" cy="265.35" r="0.95"/>
<circle cx="395.90" cy="288.44" r="0.95"/>
<circle cx="424.20" cy="240.74" r="0.95"/>
<circle cx="426.30" cy="242.26" r="0.95"/>
<circle cx="424.20" cy="245.70" r="0.95"/>
<circle cx="424.20" cy="255.02" r="0.95"/>
<circle cx="424.20" cy="257.75" r="0.95"/>
<circle cx="426.30" cy="259.27" r="0.95"/>
<circle cx="424.20" cy="261.91" r="0.95"/>
<circle cx="426.30" cy="262.82" r="0.95"/>
<circle cx="424.20" cy="276.99" r="0.95"/>
</g>
<g stroke="#1c1c1c" fill="none">
<line x1="272.70" y1="268.42" x2="292.70" y2="268.42" stroke-width="1.6" stroke-linecap="butt"/>
<line x1="277.60" y1="264.33" x2="287.80" y2="264.33" stroke-width="1.5" stroke-linecap="butt"/>
<line x1="277.60" y1="272.51" x2="287.80" y2="272.51" stroke-width="1.5" stroke-linecap="butt"/>
<line x1="282.70" y1="264.33" x2="282.70" y2="272.51" stroke-width="1.5" stroke-linecap="butt"/>
<line x1="301.00" y1="276.55" x2="321.00" y2="276.55" stroke-width="1.6" stroke-linecap="butt"/>
<line x1="305.90" y1="273.47" x2="316.10" y2="273.47" stroke-width="1.5" stroke-linecap="butt"/>
<line x1="305.90" y1="279.63" x2="316.10" y2="279.63" stroke-width="1.5" stroke-linecap="butt"/>
<line x1="311.00" y1="273.47" x2="311.00" y2="279.63" stroke-width="1.5" stroke-linecap="butt"/>
<line x1="329.30" y1="271.11" x2="349.30" y2="271.11" stroke-width="1.6" stroke-linecap="butt"/>
<line x1="334.20" y1="267.64" x2="344.40" y2="267.64" stroke-width="1.5" stroke-linecap="butt"/>
<line x1="334.20" y1="274.58" x2="344.40" y2="274.58" stroke-width="1.5" stroke-linecap="butt"/>
<line x1="339.30" y1="267.64" x2="339.30" y2="274.58" stroke-width="1.5" stroke-linecap="butt"/>
<line x1="357.60" y1="264.54" x2="377.60" y2="264.54" stroke-width="1.6" stroke-linecap="butt"/>
<line x1="362.50" y1="260.38" x2="372.70" y2="260.38" stroke-width="1.5" stroke-linecap="butt"/>
<line x1="362.50" y1="268.70" x2="372.70" y2="268.70" stroke-width="1.5" stroke-linecap="butt"/>
<line x1="367.60" y1="260.38" x2="367.60" y2="268.70" stroke-width="1.5" stroke-linecap="butt"/>
<line x1="385.90" y1="262.88" x2="405.90" y2="262.88" stroke-width="1.6" stroke-linecap="butt"/>
<line x1="390.80" y1="259.84" x2="401.00" y2="259.84" stroke-width="1.5" stroke-linecap="butt"/>
<line x1="390.80" y1="265.92" x2="401.00" y2="265.92" stroke-width="1.5" stroke-linecap="butt"/>
<line x1="395.90" y1="259.84" x2="395.90" y2="265.92" stroke-width="1.5" stroke-linecap="butt"/>
<line x1="414.20" y1="255.83" x2="434.20" y2="255.83" stroke-width="1.6" stroke-linecap="butt"/>
<line x1="419.10" y1="251.98" x2="429.30" y2="251.98" stroke-width="1.5" stroke-linecap="butt"/>
<line x1="419.10" y1="259.67" x2="429.30" y2="259.67" stroke-width="1.5" stroke-linecap="butt"/>
<line x1="424.20" y1="251.98" x2="424.20" y2="259.67" stroke-width="1.5" stroke-linecap="butt"/>
</g>
<g stroke="none" fill="#1a1a1a">
<circle cx="521.50" cy="295.05" r="0.95"/>
<circle cx="521.50" cy="300.06" r="0.95"/>
<circle cx="523.20" cy="300.46" r="0.95"/>
<circle cx="521.50" cy="302.07" r="0.95"/>
<circle cx="523.20" cy="302.77" r="0.95"/>
<circle cx="521.50" cy="303.88" r="0.95"/>
<circle cx="523.20" cy="305.28" r="0.95"/>
<circle cx="521.50" cy="305.68" r="0.95"/>
<circle cx="519.80" cy="306.08" r="0.95"/>
<circle cx="524.90" cy="306.58" r="0.95"/>
<circle cx="523.20" cy="306.99" r="0.95"/>
<circle cx="518.10" cy="306.99" r="0.95"/>
<circle cx="521.50" cy="307.59" r="0.95"/>
<circle cx="519.80" cy="307.89" r="0.95"/>
<circle cx="526.60" cy="308.12" r="0.95"/>
<circle cx="524.90" cy="308.29" r="0.95"/>
<circle cx="516.40" cy="308.29" r="0.95"/>
<circle cx="523.20" cy="308.86" r="0.95"/>
<circle cx="521.50" cy="309.61" r="0.95"/>
<circle cx="519.80" cy="310.40" r="0.95"/>
<circle cx="523.20" cy="310.80" r="0.95"/>
<circle cx="524.90" cy="310.80" r="0.95"/>
<circle cx="518.10" cy="311.00" r="0.95"/>
<circle cx="521.50" cy="311.30" r="0.95"/>
<circle cx="523.20" cy="312.50" r="0.95"/>
<circle cx="521.50" cy="313.11" r="0.95"/>
<circle cx="521.50" cy="315.31" r="0.95"/>
<circle cx="521.50" cy="320.63" r="0.95"/>
<circle cx="523.20" cy="321.53" r="0.95"/>
<circle cx="521.50" cy="330.87" r="0.95"/>
<circle cx="549.80" cy="297.86" r="0.95"/>
<circle cx="549.80" cy="304.58" r="0.95"/>
<circle cx="551.50" cy="305.78" r="0.95"/>
<circle cx="549.80" cy="306.58" r="0.95"/>
<circle cx="551.50" cy="307.97" r="0.95"/>
<circle cx="548.10" cy="307.99" r="0.95"/>
<circle cx="553.20" cy="307.99" r="0.95"/>
<circle cx="549.80" cy="308.71" r="0.95"/>
<circle cx="546.40" cy="308.79" r="0.95"/>
<circle cx="554.90" cy="309.09" r="0.95"/>
<circle cx="544.70" cy="309.09" r="0.95"/>
<circle cx="556.60" cy="309.19" r="0.95"/>
<circle cx="543.00" cy="309.46" r="0.95"/>
<circle cx="551.50" cy="309.59" r="0.95"/>
<circle cx="548.10" cy="310.20" r="0.95"/>
<circle cx="549.80" cy="310.40" r="0.95"/>
<circle cx="551.50" cy="311.30" r="0.95"/>
<circle cx="548.10" cy="311.90" r="0.95"/>
<circle cx="549.80" cy="312.20" r="0.95"/>
<circle cx="551.50" cy="313.11" r="0.95"/>
<circle cx="549.80" cy="314.91" r="0.95"/>
<circle cx="578.10" cy="298.36" r="0.95"/>
<circle cx="578.10" cy="303.17" r="0.95"/>
<circle cx="579.80" cy="303.57" r="0.95"/>
<circle cx="576.40" cy="303.98" r="0.95"/>
<circle cx="578.10" cy="305.98" r="0.95"/>
<circle cx="579.80" cy="306.79" r="0.95"/>
<circle cx="576.40" cy="307.19" r="0.95"/>
<circle cx="578.10" cy="308.39" r="0.95"/>
<circle cx="579.80" cy="309.19" r="0.95"/>
<circle cx="576.40" cy="309.59" r="0.95"/>
<circle cx="578.10" cy="311.40" r="0.95"/>
<circle cx="579.80" cy="311.90" r="0.95"/>
<circle cx="576.40" cy="311.90" r="0.95"/>
<circle cx="578.10" cy="313.01" r="0.95"/>
<circle cx="579.80" cy="314.31" r="0.95"/>
<circle cx="578.10" cy="326.95" r="0.95"/>
<circle cx="606.40" cy="292.84" r="0.95"/>
<circle cx="606.40" cy="301.57" r="0.95"/>
<circle cx="608.10" cy="301.87" r="0.95"/>
<circle cx="604.70" cy="303.07" r="0.95"/>
<circle cx="606.40" cy="304.68" r="0.95"/>
<circle cx="606.40" cy="306.38" r="0.95"/>
<circle cx="608.10" cy="306.89" r="0.95"/>
<circle cx="606.40" cy="309.19" r="0.95"/>
<circle cx="606.40" cy="315.21" r="0.95"/>
<circle cx="606.40" cy="317.22" r="0.95"/>
<circle cx="634.70" cy="292.04" r="0.95"/>
<circle cx="636.40" cy="292.84" r="0.95"/>
<circle cx="633.00" cy="293.24" r="0.95"/>
<circle cx="634.70" cy="294.34" r="0.95"/>
<circle cx="634.70" cy="299.46" r="0.95"/>
<circle cx="636.40" cy="299.66" r="0.95"/>
<circle cx="634.70" cy="301.87" r="0.95"/>
<circle cx="634.70" cy="303.98" r="0.95"/>
<circle cx="636.40" cy="304.48" r="0.95"/>
<circle cx="633.00" cy="304.58" r="0.95"/>
<circle cx="634.70" cy="305.58" r="0.95"/>
<circle cx="634.70" cy="310.10" r="0.95"/>
<circle cx="663.00" cy="226.22" r="0.95"/>
<circle cx="663.00" cy="253.01" r="0.95"/>
<circle cx="663.00" cy="279.49" r="0.95"/>
<circle cx="663.00" cy="281.70" r="0.95"/>
<circle cx="663.00" cy="293.04" r="0.95"/>
<circle cx="663.00" cy="299.26" r="0.95"/>
<circle cx="664.70" cy="300.06" r="0.95"/>
<circle cx="663.00" cy="304.48" r="0.95"/>
<circle cx="664.70" cy="304.48" r="0.95"/>
</g>
<g stroke="#1c1c1c" fill="none">
<line x1="511.50" y1="308.97" x2="531.50" y2="308.97" stroke-width="1.6" stroke-linecap="butt"/>
<line x1="516.40" y1="307.57" x2="526.60" y2="307.57" stroke-width="1.5" stroke-linecap="butt"/>
<line x1="516.40" y1="310.37" x2="526.60" y2="310.37" stroke-width="1.5" stroke-linecap="butt"/>
<line x1="521.50" y1="307.57" x2="521.50" y2="310.37" stroke-width="1.5" stroke-linecap="butt"/>
<line x1="539.80" y1="308.85" x2="559.80" y2="308.85" stroke-width="1.6" stroke-linecap="butt"/>
<line x1="544.70" y1="307.91" x2="554.90" y2="307.91" stroke-width="1.5" stroke-linecap="butt"/>
<line x1="544.70" y1="309.78" x2="554.90" y2="309.78" stroke-width="1.5" stroke-linecap="butt"/>
<line x1="549.80" y1="307.91" x2="549.80" y2="309.78" stroke-width="1.5" stroke-linecap="butt"/>
<line x1="568.10" y1="309.11" x2="588.10" y2="309.11" stroke-width="1.6" stroke-linecap="butt"/>
<line x1="573.00" y1="307.51" x2="583.20" y2="307.51" stroke-width="1.5" stroke-linecap="butt"/>
<line x1="573.00" y1="310.70" x2="583.20" y2="310.70" stroke-width="1.5" stroke-linecap="butt"/>
<line x1="578.10" y1="307.51" x2="578.10" y2="310.70" stroke-width="1.5" stroke-linecap="butt"/>
<line x1="596.40" y1="305.89" x2="616.40" y2="305.89" stroke-width="1.6" stroke-linecap="butt"/>
<line x1="601.30" y1="303.68" x2="611.50" y2="303.68" stroke-width="1.5" stroke-linecap="butt"/>
<line x1="601.30" y1="308.11" x2="611.50" y2="308.11" stroke-width="1.5" stroke-linecap="butt"/>
<line x1="606.40" y1="303.68" x2="606.40" y2="308.11" stroke-width="1.5" stroke-linecap="butt"/>
<line x1="624.70" y1="300.18" x2="644.70" y2="300.18" stroke-width="1.6" stroke-linecap="butt"/>
<line x1="629.60" y1="298.47" x2="639.80" y2="298.47" stroke-width="1.5" stroke-linecap="butt"/>
<line x1="629.60" y1="301.89" x2="639.80" y2="301.89" stroke-width="1.5" stroke-linecap="butt"/>
<line x1="634.70" y1="298.47" x2="634.70" y2="301.89" stroke-width="1.5" stroke-linecap="butt"/>
<line x1="653.00" y1="282.42" x2="673.00" y2="282.42" stroke-width="1.6" stroke-linecap="butt"/>
<line x1="657.90" y1="273.51" x2="668.10" y2="273.51" stroke-width="1.5" stroke-linecap="butt"/>
<line x1="657.90" y1="291.32" x2="668.10" y2="291.32" stroke-width="1.5" stroke-linecap="butt"/>
<line x1="663.00" y1="273.51" x2="663.00" y2="291.32" stroke-width="1.5" stroke-linecap="butt"/>
</g>
<g stroke="#111" fill="none">
<path d="M40.40 210.20L40.40 214.60M38.49 211.30L42.31 213.50M42.31 211.30L38.49 213.50" stroke-width="1.3" stroke-linecap="round"/><circle cx="40.40" cy="212.40" r="1.05" fill="#111" stroke="none"/>
<path d="M47.50 210.20L47.50 214.60M45.59 211.30L49.41 213.50M49.41 211.30L45.59 213.50" stroke-width="1.3" stroke-linecap="round"/><circle cx="47.50" cy="212.40" r="1.05" fill="#111" stroke="none"/>
<path d="M54.70 210.20L54.70 214.60M52.79 211.30L56.61 213.50M56.61 211.30L52.79 213.50" stroke-width="1.3" stroke-linecap="round"/><circle cx="54.70" cy="212.40" r="1.05" fill="#111" stroke="none"/>
<path d="M68.30 226.40L68.30 230.80M66.39 227.50L70.21 229.70M70.21 227.50L66.39 229.70" stroke-width="1.3" stroke-linecap="round"/><circle cx="68.30" cy="228.60" r="1.05" fill="#111" stroke="none"/>
<path d="M75.50 226.40L75.50 230.80M73.59 227.50L77.41 229.70M77.41 227.50L73.59 229.70" stroke-width="1.3" stroke-linecap="round"/><circle cx="75.50" cy="228.60" r="1.05" fill="#111" stroke="none"/>
<path d="M82.70 226.40L82.70 230.80M80.79 227.50L84.61 229.70M84.61 227.50L80.79 229.70" stroke-width="1.3" stroke-linecap="round"/><circle cx="82.70" cy="228.60" r="1.05" fill="#111" stroke="none"/>
<path d="M102.40 258.10L102.40 262.50M100.49 259.20L104.31 261.40M104.31 259.20L100.49 261.40" stroke-width="1.3" stroke-linecap="round"/><circle cx="102.40" cy="260.30" r="1.05" fill="#111" stroke="none"/>
<path d="M109.50 258.10L109.50 262.50M107.59 259.20L111.41 261.40M111.41 259.20L107.59 261.40" stroke-width="1.3" stroke-linecap="round"/><circle cx="109.50" cy="260.30" r="1.05" fill="#111" stroke="none"/>
<path d="M131.40 278.90L131.40 283.30M129.49 280.00L133.31 282.20M133.31 280.00L129.49 282.20" stroke-width="1.3" stroke-linecap="round"/><circle cx="131.40" cy="281.10" r="1.05" fill="#111" stroke="none"/>
<path d="M154.30 278.90L154.30 283.30M152.39 280.00L156.21 282.20M156.21 280.00L152.39 282.20" stroke-width="1.3" stroke-linecap="round"/><circle cx="154.30" cy="281.10" r="1.05" fill="#111" stroke="none"/>
<path d="M161.40 278.90L161.40 283.30M159.49 280.00L163.31 282.20M163.31 280.00L159.49 282.20" stroke-width="1.3" stroke-linecap="round"/><circle cx="161.40" cy="281.10" r="1.05" fill="#111" stroke="none"/>
<path d="M168.60 278.90L168.60 283.30M166.69 280.00L170.51 282.20M170.51 280.00L166.69 282.20" stroke-width="1.3" stroke-linecap="round"/><circle cx="168.60" cy="281.10" r="1.05" fill="#111" stroke="none"/>
<path d="M422.60 218.00L422.60 222.40M420.69 219.10L424.51 221.30M424.51 219.10L420.69 221.30" stroke-width="1.3" stroke-linecap="round"/><circle cx="422.60" cy="220.20" r="1.05" fill="#111" stroke="none"/>
<path d="M549.00 282.20L549.00 286.60M547.09 283.30L550.91 285.50M550.91 283.30L547.09 285.50" stroke-width="1.3" stroke-linecap="round"/><circle cx="549.00" cy="284.40" r="1.05" fill="#111" stroke="none"/>
<path d="M627.40 269.70L627.40 274.10M625.49 270.80L629.31 273.00M629.31 270.80L625.49 273.00" stroke-width="1.3" stroke-linecap="round"/><circle cx="627.40" cy="271.90" r="1.05" fill="#111" stroke="none"/>
<path d="M634.40 269.70L634.40 274.10M632.49 270.80L636.31 273.00M636.31 270.80L632.49 273.00" stroke-width="1.3" stroke-linecap="round"/><circle cx="634.40" cy="271.90" r="1.05" fill="#111" stroke="none"/>
<path d="M641.50 269.70L641.50 274.10M639.59 270.80L643.41 273.00M643.41 270.80L639.59 273.00" stroke-width="1.3" stroke-linecap="round"/><circle cx="641.50" cy="271.90" r="1.05" fill="#111" stroke="none"/>
<path d="M662.20 205.70L662.20 210.10M660.29 206.80L664.11 209.00M664.11 206.80L660.29 209.00" stroke-width="1.3" stroke-linecap="round"/><circle cx="662.20" cy="207.90" r="1.05" fill="#111" stroke="none"/>
</g>
</svg>
</body></html>
